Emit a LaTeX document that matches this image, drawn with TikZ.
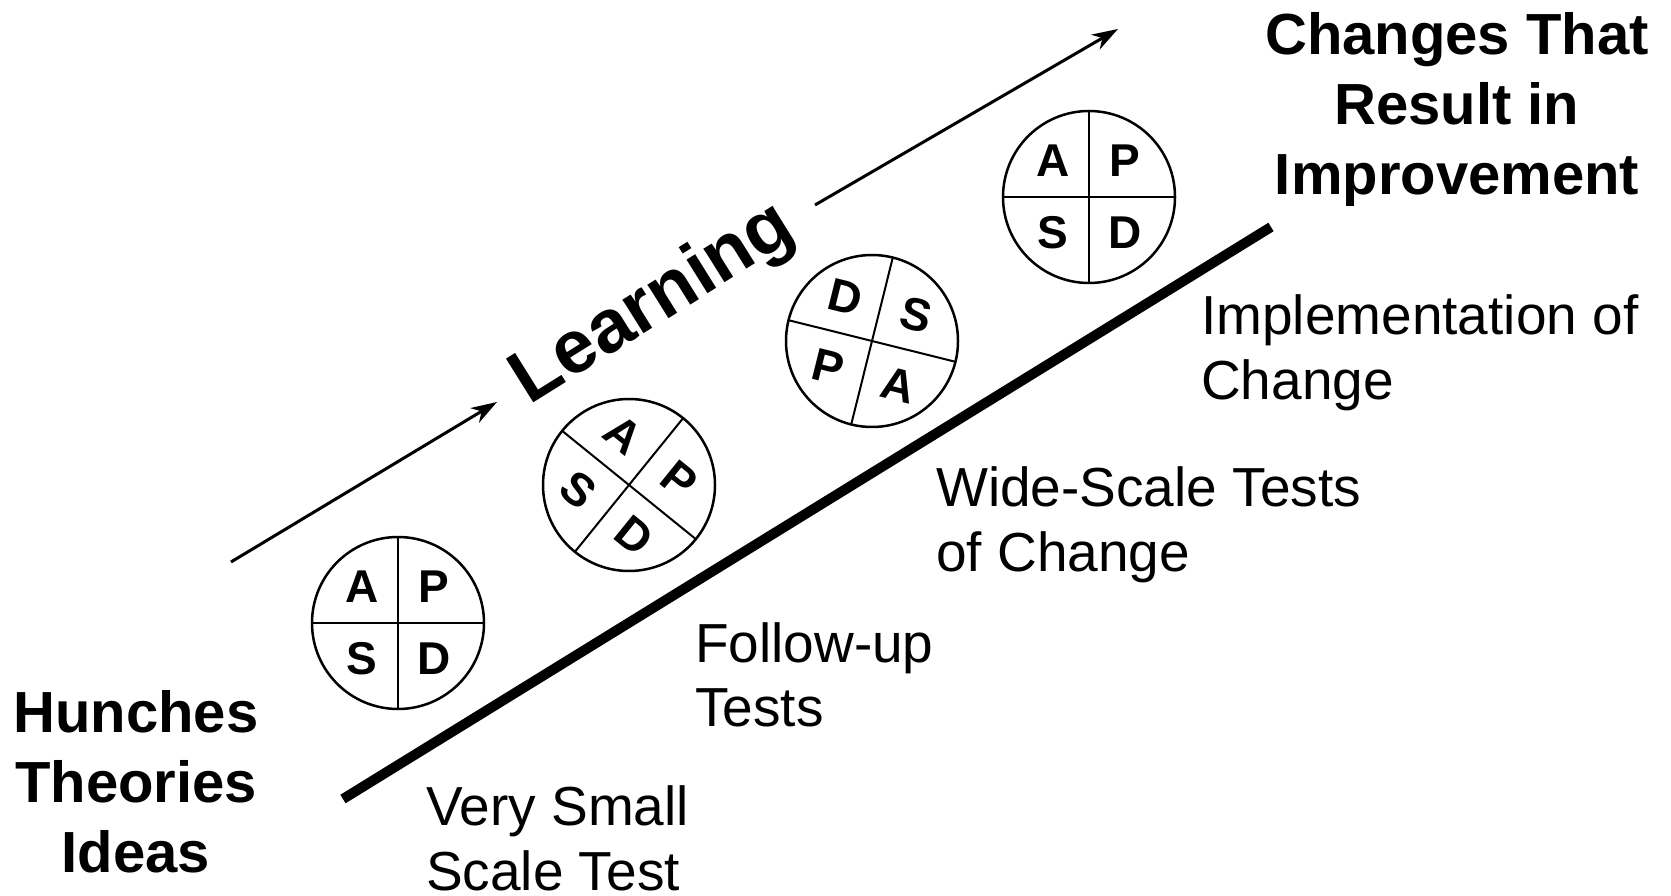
\documentclass[tikz,border=0pt]{standalone}
\usepackage{fontspec}
\setmainfont{Liberation Sans}
\usetikzlibrary{arrows.meta}

\tikzset{
  ring/.style={circle,draw,line width=2.5pt,minimum size=172pt,inner sep=0pt},
  spoke/.style={line width=2pt},
  letter/.style={font=\fontsize{46}{46}\selectfont\bfseries,inner sep=0pt},
  stage/.style={font=\fontsize{55}{65}\selectfont,align=left,anchor=base west,inner sep=0pt},
  goal/.style={font=\fontsize{58}{70}\selectfont\bfseries,align=center,anchor=base,inner sep=0pt},
  trend/.style={line width=3pt,-{Stealth[length=26pt,width=17pt,inset=8pt]}},
}

% one PDSA wheel: name, centre, turn of the quadrants, tilt of the letters
\newcommand{\pdsawheel}[4]{
  \node[ring] (#1) at (#2) {};
  \begin{scope}[shift={(#1)}]
    \draw[spoke] (#3:86) -- (#3+180:86);
    \draw[spoke] (#3+90:86) -- (#3+270:86);
    \node[letter,rotate=#4] (#1a) at (#3+135:51) {A};
    \node[letter,rotate=#4] (#1p) at (#3+45:51) {P};
    \node[letter,rotate=#4] (#1d) at (#3-45:51) {D};
    \node[letter,rotate=#4] (#1s) at (#3-135:51) {S};
  \end{scope}
}

\begin{document}
\begin{tikzpicture}[x=1pt,y=1pt]
  \useasboundingbox (0,0) rectangle (1671,895);

  % the ramp
  \coordinate (ramp0) at (343,96);
  \coordinate (ramp1) at (1271,668);
  \draw[line width=10pt] (ramp0) -- (ramp1);

  % learning arrows
  \coordinate (lo0) at (231,333);
  \coordinate (lo1) at (497,493);
  \coordinate (hi0) at (815,690);
  \coordinate (hi1) at (1118,866);
  \draw[trend] (lo0) -- (lo1);
  \draw[trend] (hi0) -- (hi1);
  \node[font=\fontsize{75}{75}\selectfont\bfseries,rotate=32] (learn) at (654,590) {Learning};

  % the cycles
  \pdsawheel{w1}{398,272}{0}{0}
  \pdsawheel{w2}{629,410}{-39}{-39}
  \pdsawheel{w3}{872,554}{166}{-14}
  \pdsawheel{w4}{1089,698}{0}{0}

  % labels (base = last line)
  \node[goal] (start) at (136,23) {Hunches\\Theories\\Ideas};
  \node[goal] (end) at (1457,700) {Changes That\\Result in\\Improvement};
  \node[stage] (st1) at (426,5) {Very Small\\Scale Test};
  \node[stage] (st2) at (695,168) {Follow-up\\Tests};
  \node[stage] (st3) at (936,323) {Wide-Scale Tests\\of Change};
  \node[stage] (st4) at (1201,495) {Implementation of\\Change};
\end{tikzpicture}
\end{document}
